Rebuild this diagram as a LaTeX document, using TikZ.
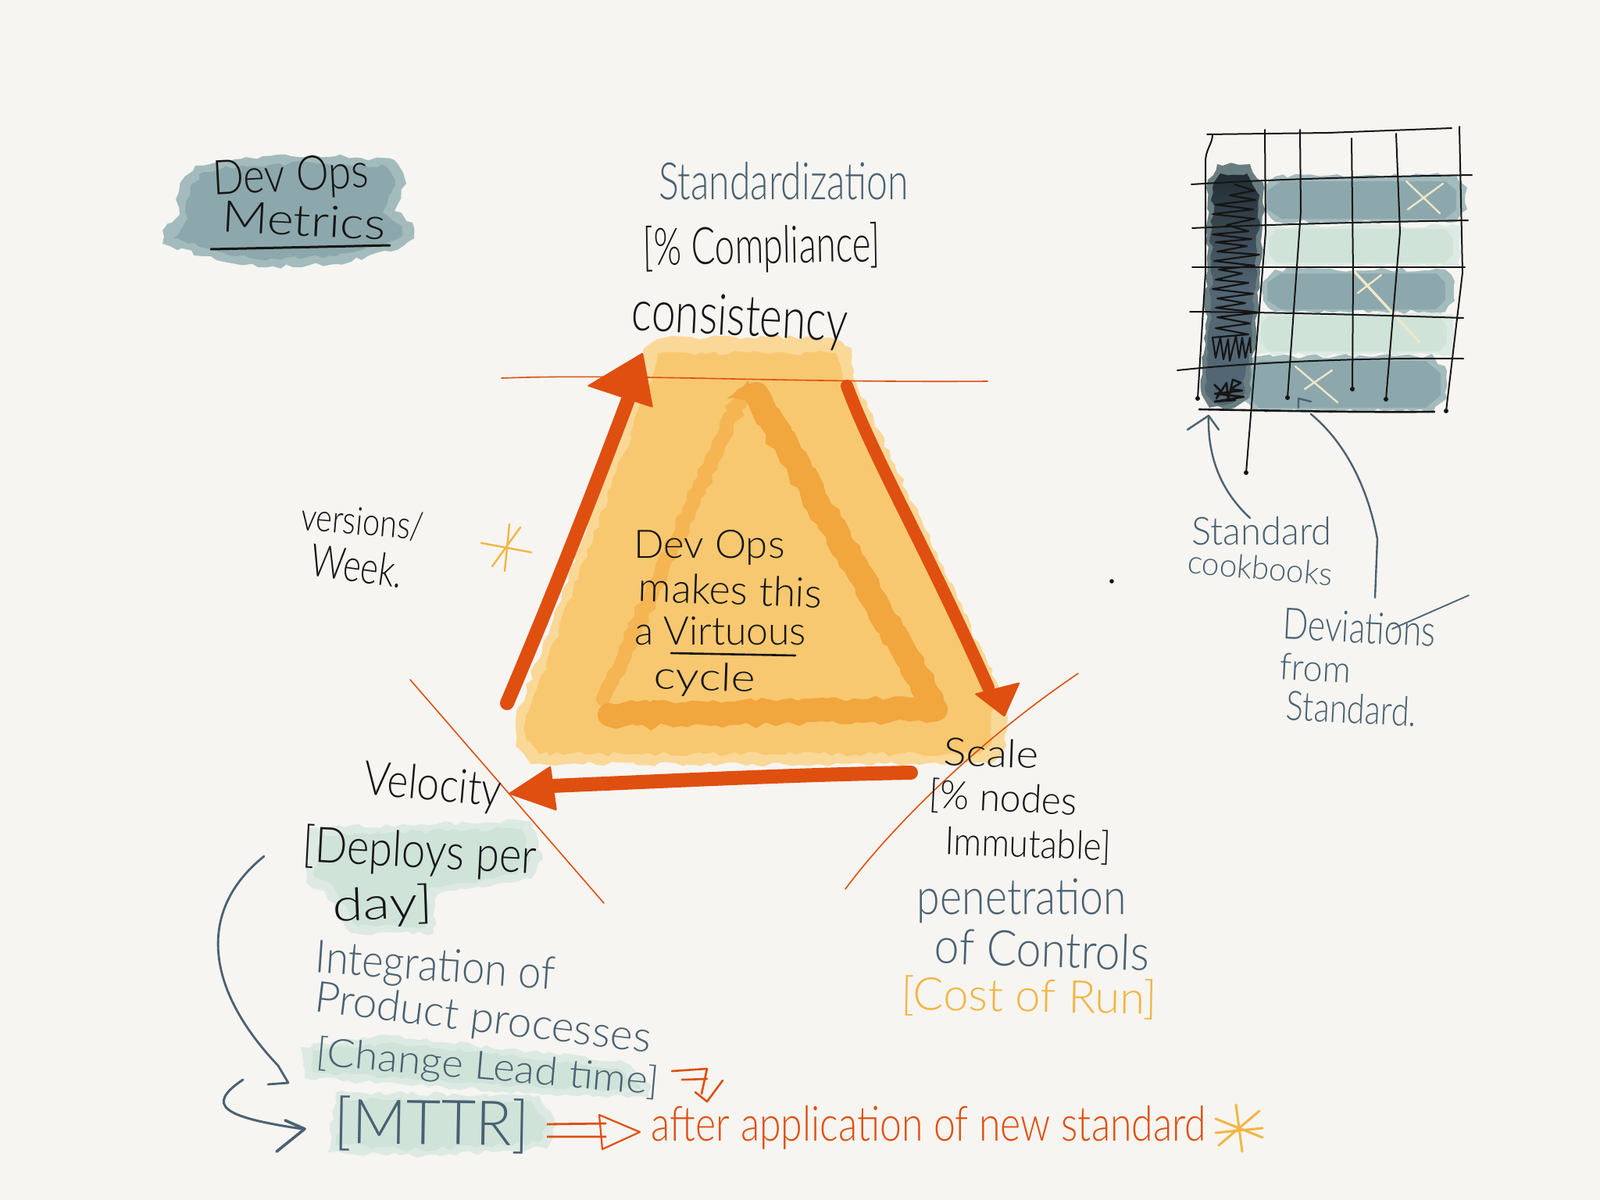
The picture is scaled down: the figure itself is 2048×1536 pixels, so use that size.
\documentclass[tikz,border=0pt]{standalone}
\usepackage{fontspec}
\usepackage{graphicx}
\setmainfont{Lato Light}
\usetikzlibrary{decorations.pathmorphing}
\definecolor{bgc}{HTML}{F6F5F1}
\definecolor{org}{HTML}{DF4F10}
\definecolor{ylw}{HTML}{F8C870}
\definecolor{ylwp}{HTML}{FAD898}
\definecolor{ylwd}{HTML}{F1A63E}
\definecolor{ylwl}{HTML}{F4B552}
\definecolor{ylws}{HTML}{F2B544}
\definecolor{teal}{HTML}{8DA8AC}
\definecolor{tealp}{HTML}{A3BBBD}
\definecolor{mint}{HTML}{CFE3D9}
\definecolor{mintp}{HTML}{DDEAE3}
\definecolor{slate}{HTML}{4A6172}
\definecolor{ink}{HTML}{151515}
\definecolor{cream}{HTML}{EFE6CC}
\tikzset{
  blob/.style={decorate,decoration={random steps,segment length=9pt,amplitude=3pt}},
  thinink/.style={ink,line width=2pt,line cap=round,line join=round},
  slatepen/.style={slate,line width=2.4pt,line cap=round,line join=round},
  orgthin/.style={org,line width=1.6pt,line cap=round},
  orgbar/.style={org,line width=18pt,line cap=round},
  crosspen/.style={cream,line width=2.4pt,line cap=round},
  starpen/.style={ylws,line width=2.4pt,line cap=round},
}
\newcommand{\hw}[8]{\node[rotate=#4,inner sep=0pt,text=#7] (#1) at (#2,#3) {\resizebox{#5pt}{#6pt}{\fontsize{40}{44}\selectfont #8}};}
\begin{document}
\begin{tikzpicture}[x=1pt,y=-1pt]
\useasboundingbox (0,0) rectangle (2048,1536);
\fill[bgc] (0,0) rectangle (2048,1536);
% title blob
\fill[tealp,blob] (232,232) -- (250,212) -- (300,204) -- (400,198) -- (505,205) -- (520,235) -- (505,270) -- (528,285) -- (530,305) -- (500,322) -- (430,338) -- (330,342) -- (260,328) -- (208,312) -- (208,295) -- (230,275) -- (225,255) -- cycle;
\fill[teal,blob] (245,236) -- (262,220) -- (310,212) -- (400,208) -- (495,214) -- (506,236) -- (490,272) -- (515,290) -- (515,302) -- (490,314) -- (430,328) -- (330,332) -- (265,318) -- (222,305) -- (240,280) -- (238,258) -- cycle;
% triangle
\fill[ylwp,blob] (825,445) -- (850,432) -- (1060,432) -- (1090,445) -- (1096,490) -- (1288,900) -- (1288,955) -- (1268,978) -- (680,978) -- (660,955) -- (660,920) -- (825,470) -- cycle;
\fill[ylw,blob] (842,452) -- (1070,452) -- (1082,495) -- (1272,905) -- (1270,948) -- (1255,965) -- (690,965) -- (674,948) -- (672,925) -- (835,480) -- cycle;
\draw[ylwl,line width=18pt,blob,line cap=round] (950,505) -- (772,895);
\draw[ylwd,line width=32pt,blob,line cap=round] (968,505) -- (1192,895);
\draw[ylwd,line width=30pt,blob,line cap=round] (780,915) -- (1198,908);
\fill[ylwd,blob] (957,487) -- (985,510) -- (930,510) -- cycle;
% arrows of the cycle
\coordinate (cons) at (823,451);
\coordinate (scl) at (1286,918);
\coordinate (vel) at (650,1016);
\draw[orgbar] (649,900) .. controls (700,780) and (760,630) .. (812,490);
\fill[org,rounded corners=2pt] (cons) -- (751,494) -- (836,522) -- cycle;
\draw[orgbar,line width=16pt] (1084,494) .. controls (1120,590) and (1180,690) .. (1265,880);
\fill[org,rounded corners=2pt] (scl) -- (1247,888) -- (1306,873) -- cycle;
\draw[orgbar] (1166,989) .. controls (1000,992) and (850,1000) .. (705,1006);
\fill[org,rounded corners=2pt] (vel) -- (705,980) -- (713,1038) -- cycle;
% thin lines
\draw[orgthin] (642,484) .. controls (800,478) and (1000,490) .. (1264,488);
\draw[orgthin] (525,870) -- (773,1156);
\draw[orgthin] (1380,862) .. controls (1250,950) and (1140,1060) .. (1082,1138);
% grid rows
\fill[tealp,blob] (1632,226) -- (1864,224) -- (1878,240) -- (1878,268) -- (1864,284) -- (1632,284) -- (1618,268) -- (1618,240) -- cycle;
\fill[teal] (1640,232) -- (1850,232) -- (1864,244) -- (1864,268) -- (1850,280) -- (1640,280) -- (1622,268) -- (1622,244) -- cycle;
\fill[mintp,blob] (1618,289) -- (1868,289) -- (1868,340) -- (1618,340) -- cycle;
\fill[mint] (1634,293) -- (1850,293) -- (1860,305) -- (1860,325) -- (1850,336) -- (1634,336) -- (1624,325) -- (1624,305) -- cycle;
\fill[tealp,blob] (1632,345) -- (1850,345) -- (1862,360) -- (1862,385) -- (1850,399) -- (1632,399) -- (1617,385) -- (1617,360) -- cycle;
\fill[teal] (1640,350) -- (1838,350) -- (1850,362) -- (1850,384) -- (1838,396) -- (1640,396) -- (1622,384) -- (1622,362) -- cycle;
\fill[mintp,blob] (1608,400) -- (1860,402) -- (1860,454) -- (1608,454) -- cycle;
\fill[mint] (1624,404) -- (1842,406) -- (1852,418) -- (1852,438) -- (1842,450) -- (1624,450) -- (1614,438) -- (1614,416) -- cycle;
\fill[tealp,blob] (1605,456) -- (1835,456) -- (1852,475) -- (1852,510) -- (1835,526) -- (1605,526) -- (1587,510) -- (1587,475) -- cycle;
\fill[teal] (1612,462) -- (1825,462) -- (1844,478) -- (1844,506) -- (1825,522) -- (1612,522) -- (1595,506) -- (1595,478) -- cycle;
% dark column
\fill[black!25!teal,blob] (1558,210) -- (1600,210) -- (1618,240) -- (1610,400) -- (1598,510) -- (1580,522) -- (1548,522) -- (1538,505) -- (1543,400) -- (1546,230) -- cycle;
\shade[blob,top color=black!55!slate,bottom color=slate!85!gray,middle color=slate!85!gray] (1562,222) -- (1596,222) -- (1612,250) -- (1604,400) -- (1592,505) -- (1578,516) -- (1554,516) -- (1544,505) -- (1549,400) -- (1552,240) -- cycle;
% scribble
\draw[ink,line width=2.2pt,line join=round] (1580,236)
  -- (1606,244) -- (1574,250) -- (1607,256) -- (1556,262) -- (1604,268) -- (1552,274) -- (1606,280) -- (1570,288)
  -- (1598,296) -- (1552,300) -- (1602,306) -- (1556,310) -- (1596,315) -- (1558,322) -- (1612,326) -- (1554,334)
  -- (1606,340) -- (1560,345) -- (1590,350) -- (1556,358) -- (1598,362) -- (1552,370) -- (1604,376) -- (1558,382) -- (1594,388)
  -- (1556,394) -- (1612,400) -- (1558,406) -- (1600,414) -- (1556,420) -- (1598,428)
  -- (1552,432) -- (1556,458) -- (1562,432) -- (1566,460) -- (1572,434) -- (1574,462) -- (1582,430) -- (1586,458) -- (1590,432) -- (1594,458) -- (1600,432) -- (1601,452);
\draw[ink,line width=2.6pt,line join=round] (1554,492) -- (1562,500) -- (1557,510) -- (1570,490) -- (1572,512) -- (1578,486) -- (1588,490) -- (1575,498) -- (1590,500) -- (1555,504) -- (1592,508) -- (1555,514) -- (1582,512);
% crosses
\draw[crosspen] (1800,232) -- (1843,273) (1802,268) -- (1847,235);
\draw[crosspen,line width=3.4pt] (1733,347) -- (1817,438);
\draw[crosspen] (1738,375) -- (1768,352);
\draw[crosspen] (1658,469) -- (1712,515) (1670,498) -- (1705,474);
% grid
\draw[thinink] (1545,172) -- (1700,170) -- (1858,164);
\draw[thinink] (1525,236) .. controls (1650,228) and (1780,226) .. (1884,224);
\draw[thinink] (1526,292) .. controls (1650,286) and (1780,284) .. (1879,282);
\draw[thinink] (1526,342) -- (1875,342);
\draw[thinink] (1523,399) .. controls (1650,400) and (1780,404) .. (1873,407);
\draw[thinink] (1507,474) .. controls (1620,462) and (1760,458) .. (1873,459);
\draw[thinink,line width=2.6pt] (1535,524) .. controls (1650,526) and (1750,528) .. (1836,527);
\draw[thinink] (1552,172) .. controls (1552,185) and (1543,190) .. (1543,208) -- (1543,349) -- (1533,510);
\draw[thinink] (1619,166) -- (1620,297) -- (1595,605);
\draw[thinink] (1664,166) -- (1665,271) -- (1648,509);
\draw[thinink] (1730,177) -- (1732,349) -- (1731,498);
\draw[thinink] (1787,171) -- (1792,297) -- (1774,511);
\draw[thinink] (1868,162) -- (1872,349) -- (1851,526);
\foreach \p in {(1595,605),(1648,509),(1731,498),(1774,511),(1851,526),(1533,510)} \fill[ink] \p circle (3pt);
% stray dot
\fill[ink] (1423,744) circle (2.8pt);
% mint text blobs
\fill[mintp,blob] (396,1060) -- (680,1050) -- (695,1100) -- (680,1125) -- (560,1145) -- (555,1195) -- (450,1195) -- (415,1140) -- (392,1130) -- cycle;
\fill[mint,blob] (410,1068) -- (668,1060) -- (680,1098) -- (660,1120) -- (548,1138) -- (545,1186) -- (458,1186) -- (425,1132) -- (402,1122) -- cycle;
\fill[mintp,blob] (385,1340) -- (500,1325) -- (800,1360) -- (835,1390) -- (830,1405) -- (690,1400) -- (390,1380) -- cycle;
\fill[mint,blob] (400,1345) -- (500,1334) -- (790,1368) -- (822,1395) -- (690,1392) -- (400,1372) -- cycle;
\fill[mintp,blob] (430,1398) -- (690,1402) -- (712,1440) -- (700,1470) -- (540,1480) -- (420,1475) -- cycle;
\fill[mint,blob] (440,1406) -- (680,1410) -- (702,1440) -- (690,1462) -- (540,1472) -- (430,1466) -- cycle;
% texts
\hw{t1}{372}{228}{3}{200}{44}{ink}{Dev Ops}
\hw{t2}{389}{282}{-3}{210}{40}{ink}{Metrics}
\draw[thinink,line width=3pt] (270,319) -- (499,314);
\hw{s1}{1003}{232}{0}{320}{48}{slate}{Standardization}
\hw{s2}{975}{318}{1}{303}{50}{ink}{[\% Compliance]}
\hw{c1}{947}{410}{-3}{277}{52}{ink}{consistency}
\hw{v1}{464}{668}{-5}{157}{36}{ink}{versions/}
\hw{v2}{457}{724}{-8}{118}{42}{ink}{Week.}
\hw{d1}{908}{701}{0}{193}{36}{ink}{Dev Ops}
\hw{d2}{935}{755}{-2}{235}{38}{ink}{makes this}
\hw{d3}{922}{808}{0}{220}{36}{ink}{a Virtuous}
\draw[thinink,line width=2.6pt] (859,836) -- (1018,839);
\hw{d4}{902}{870}{-2}{130}{36}{ink}{cycle}
\hw{sc1}{1269}{964}{-2}{122}{36}{ink}{Scale}
\hw{sc2}{1284}{1023}{-3}{190}{38}{ink}{[\% nodes}
\hw{sc3}{1316}{1082}{-2}{212}{38}{ink}{Immutable]}
\hw{sc4}{1308}{1153}{0}{268}{46}{slate}{penetration}
\hw{sc5}{1334}{1215}{-2}{275}{46}{slate}{of Controls}
\hw{sc6}{1317}{1277}{-1}{327}{44}{ylws}{[Cost of Run]}
\hw{ve1}{554}{1008}{-5}{176}{44}{ink}{Velocity}
\hw{ve2}{537}{1092}{-3}{300}{48}{ink}{[Deploys per}
\hw{ve3}{490}{1160}{2}{128}{44}{ink}{day]}
\hw{i1}{557}{1240}{-4}{307}{42}{slate}{Integration of}
\hw{i2}{618}{1306}{-7}{433}{40}{slate}{Product processes}
\hw{i3}{624}{1368}{-5}{440}{38}{slate}{[Change Lead time]}
\hw{m1}{553}{1440}{-1}{250}{60}{slate}{[MTTR]}
\hw{a1}{1189}{1443}{0}{710}{45}{org}{after application of new standard}
\hw{g1}{1615}{680}{0}{179}{36}{slate}{Standard}
\hw{g2}{1613}{727}{-5}{186}{30}{slate}{cookbooks}
\hw{g3}{1740}{803}{-3}{196}{40}{slate}{Deviations}
\hw{g4}{1684}{855}{-3}{91}{34}{slate}{from}
\hw{g5}{1730}{907}{-3}{167}{38}{slate}{Standard.}
\draw[slatepen,line width=1.8pt] (1782,805) -- (1880,762);
% stars
\coordinate (st1) at (648,701);
\draw[starpen] (st1) ++(-32,-6) -- ++(64,12) (st1) ++(-18,24) -- ++(36,-50) (st1) ++(4,-30) -- ++(-6,60);
\coordinate (st2) at (1586,1444);
\draw[starpen,line width=3pt] (st2) ++(-30,-12) -- ++(60,24) (st2) ++(-26,22) -- ++(52,-44) (st2) ++(-4,-30) -- ++(8,60) (st2) ++(-30,6) -- ++(60,-6);
% cookbooks arrow
\coordinate (gh1) at (1547,532);
\draw[slatepen] (1600,663) .. controls (1575,640) and (1545,600) .. (gh1);
\draw[slatepen] (1520,550) -- (gh1) -- (1560,550);
% deviations arrow
\coordinate (gh2) at (1678,530);
\draw[slatepen] (1760,765) -- (1763,690) .. controls (1750,620) and (1720,565) .. (gh2);
\draw[slatepen] (1662,522) -- (1662,510) -- (1678,514);
% left arcs
\draw[slatepen,line width=2.8pt] (338,1096) .. controls (252,1165) and (262,1265) .. (356,1364);
\draw[slatepen,line width=2.8pt] (343,1388) -- (369,1386) -- (356,1364);
\draw[slatepen,line width=3pt] (311,1382) .. controls (262,1415) and (285,1430) .. (387,1445);
\draw[slatepen,line width=3.6pt] (365,1434) -- (390,1445) -- (354,1474);
% double arrow
\draw[org,line width=2.8pt] (700,1439) -- (776,1438) (700,1455) -- (776,1455);
\draw[org,line width=2.2pt,line join=round] (767,1427) -- (819,1449) -- (771,1471) -- cycle;
% small mark
\draw[org,line width=2.6pt,line join=round,line cap=round] (860,1371) -- (905,1368) (873,1382) -- (905,1381) (905,1368) -- (898,1400);
\draw[org,line width=2.6pt,line join=round,line cap=round] (925,1383) -- (905,1410) -- (890,1398);
\end{tikzpicture}
\end{document}
